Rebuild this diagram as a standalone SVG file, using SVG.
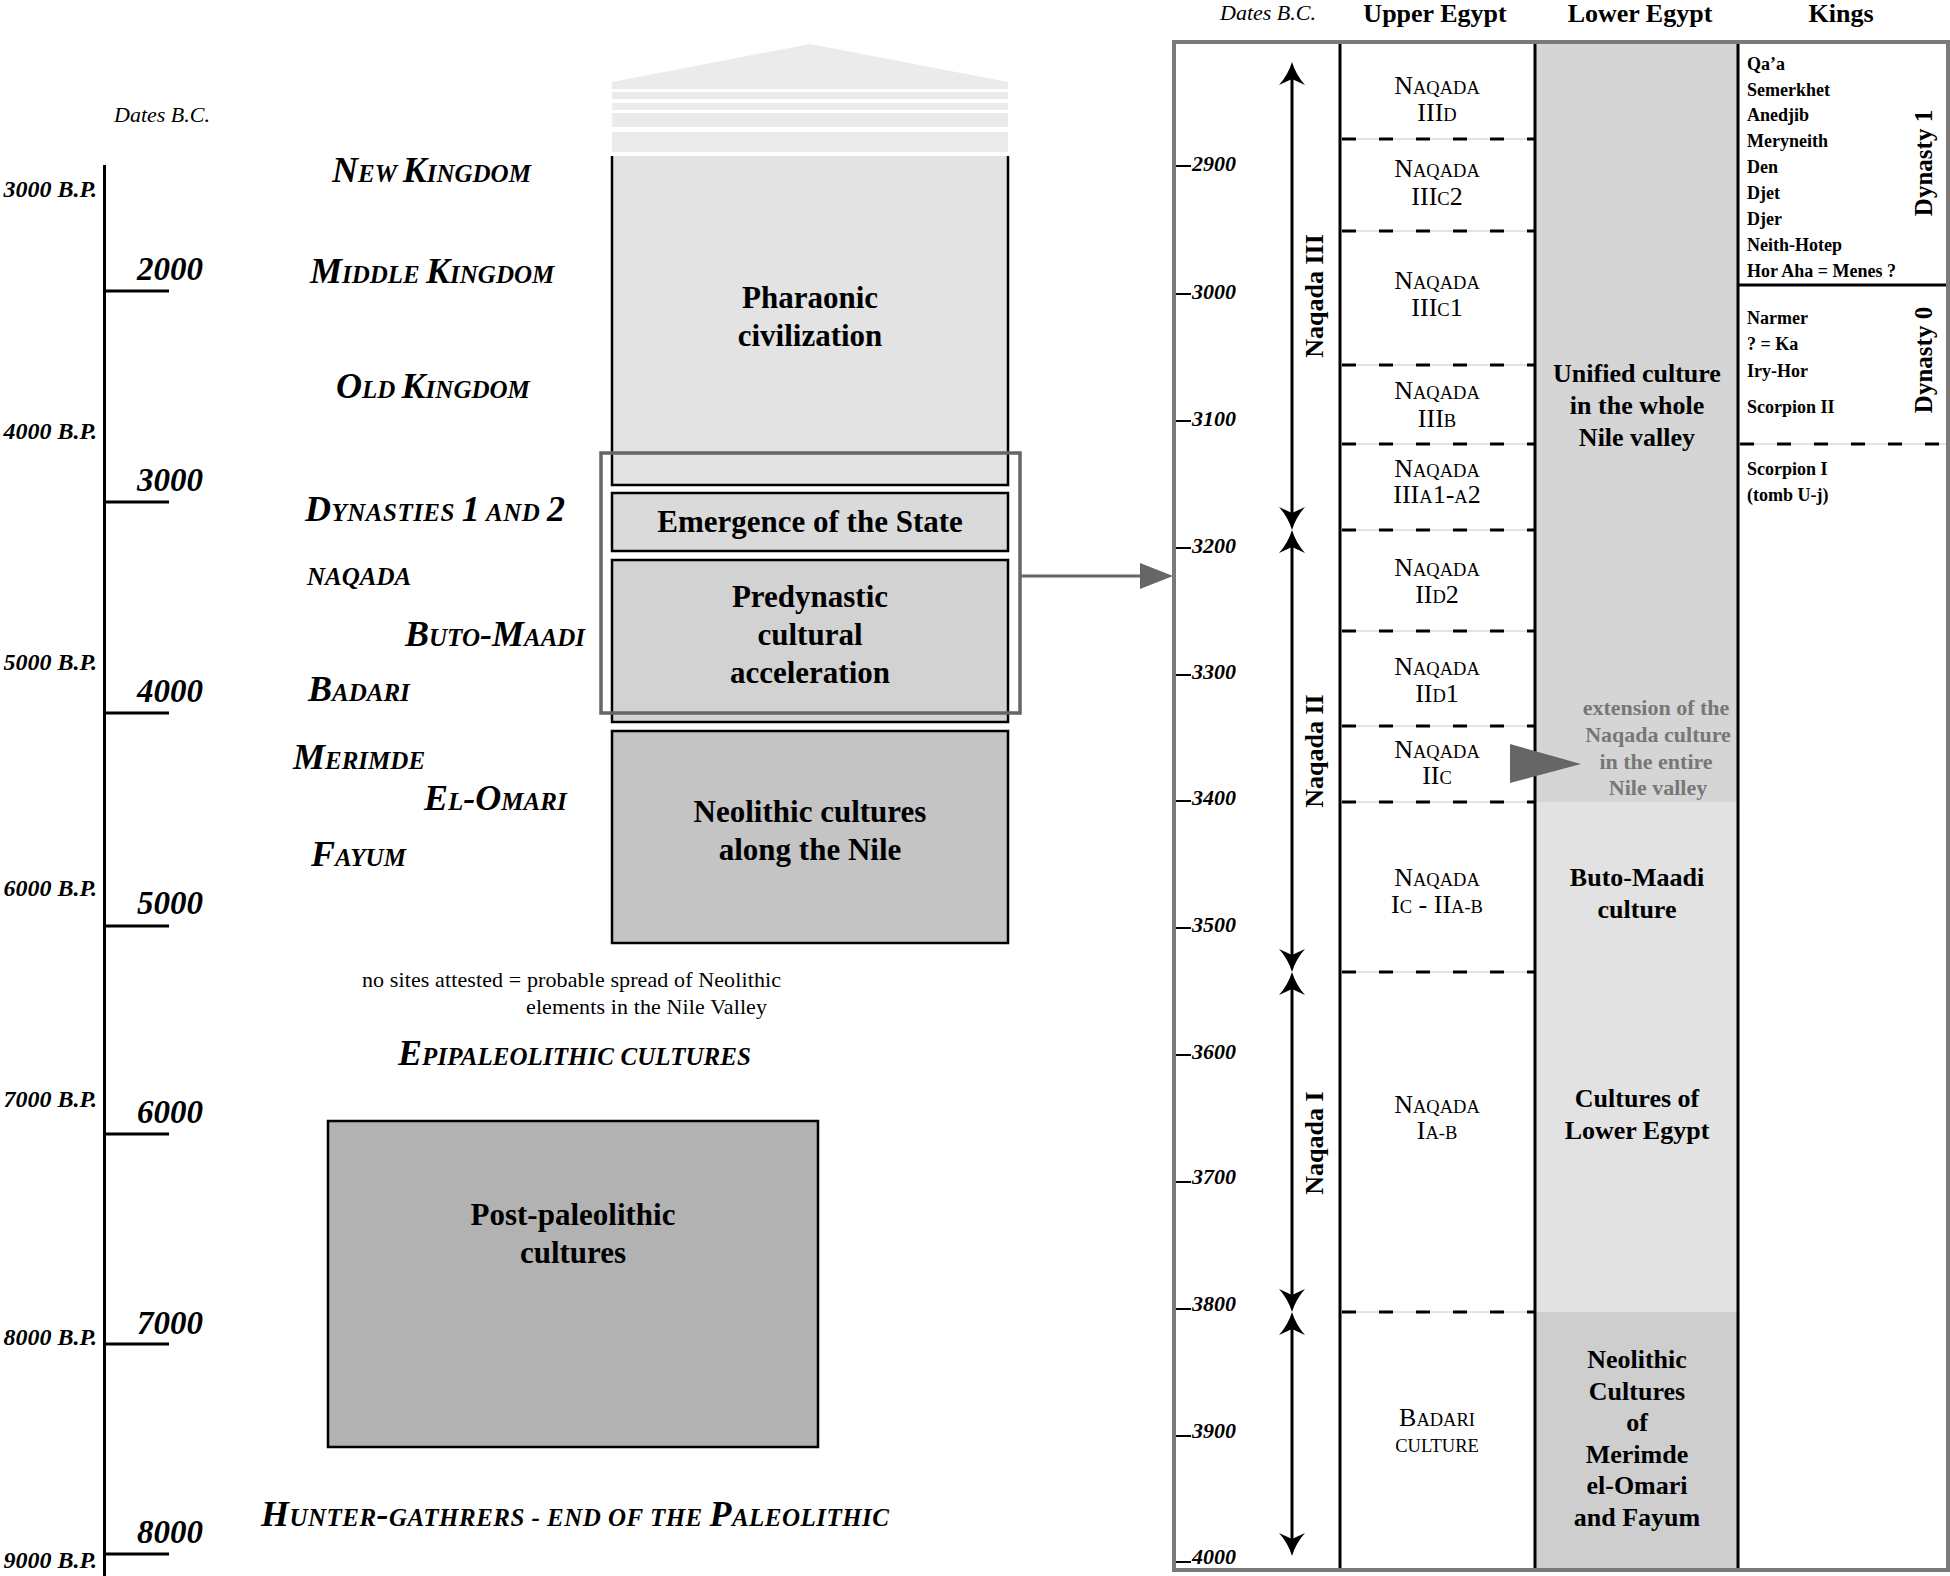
<svg xmlns="http://www.w3.org/2000/svg" width="1950" height="1576" viewBox="0 0 1950 1576">
<style>
text{font-family:"Liberation Serif","Times New Roman",serif;fill:#000}
.lbl{font-weight:bold;font-style:italic;font-size:36px}
.lbl .s,.lbs{font-size:25px}
.yr{font-weight:bold;font-style:italic;font-size:33px}
.bp{font-weight:bold;font-style:italic;font-size:24px;text-anchor:end}
.bx{font-weight:bold;font-size:31px;text-anchor:middle}
.note{font-size:22px}
.dt{font-style:italic;font-size:22px}
.hdr{font-weight:bold;font-size:26px;text-anchor:middle}
.ue{font-size:26px;text-anchor:middle}
.ue .s{font-size:18.5px}
.le{font-weight:bold;font-size:26px;text-anchor:middle}
.ext{font-weight:bold;font-size:22px;text-anchor:middle;fill:#777}
.king{font-weight:bold;font-size:18px}
.dyn{font-weight:bold;font-size:25px;text-anchor:middle}
.nq{font-weight:bold;font-size:26px;text-anchor:middle}
.tk{font-weight:bold;font-style:italic;font-size:22px}
.ax{stroke:#000;stroke-width:3;fill:none}
.box{stroke:#000;stroke-width:2.5}
.dash{stroke:#000;stroke-width:3;stroke-dasharray:14 23}
.thin{stroke:#c8c8c8;stroke-width:1}
.col{stroke:#000;stroke-width:3}
.tkl{stroke:#000;stroke-width:2}
</style>
<defs>
<path id="ahU" d="M0,0 Q4,13 13,23 L0,17 L-13,23 Q-4,13 0,0 Z" fill="#000"/>
<path id="ahD" d="M0,0 Q4,-13 13,-23 L0,-17 L-13,-23 Q-4,-13 0,0 Z" fill="#000"/>
</defs>
<rect width="1950" height="1576" fill="#fff"/>

<!-- Left time axis -->
<g id="left-axis">
<line class="ax" x1="104.5" y1="165" x2="104.5" y2="1576"/>
<line class="ax" x1="104" y1="291" x2="169" y2="291"/>
<line class="ax" x1="104" y1="502" x2="169" y2="502"/>
<line class="ax" x1="104" y1="713" x2="169" y2="713"/>
<line class="ax" x1="104" y1="926" x2="169" y2="926"/>
<line class="ax" x1="104" y1="1134" x2="169" y2="1134"/>
<line class="ax" x1="104" y1="1344" x2="169" y2="1344"/>
<line class="ax" x1="104" y1="1554" x2="169" y2="1554"/>
<text class="dt" x="114" y="122">Dates B.C.</text>
<text class="yr" x="137" y="280">2000</text>
<text class="yr" x="137" y="491">3000</text>
<text class="yr" x="137" y="702">4000</text>
<text class="yr" x="137" y="914">5000</text>
<text class="yr" x="137" y="1123">6000</text>
<text class="yr" x="137" y="1334">7000</text>
<text class="yr" x="137" y="1543">8000</text>
<text class="bp" x="97" y="197">3000 B.P.</text>
<text class="bp" x="97" y="439">4000 B.P.</text>
<text class="bp" x="97" y="670">5000 B.P.</text>
<text class="bp" x="97" y="896">6000 B.P.</text>
<text class="bp" x="97" y="1107">7000 B.P.</text>
<text class="bp" x="97" y="1345">8000 B.P.</text>
<text class="bp" x="97" y="1568">9000 B.P.</text>
</g>

<!-- Period labels -->
<g id="period-labels">
<text class="lbl" x="332" y="182">N<tspan class="s">EW </tspan>K<tspan class="s">INGDOM</tspan></text>
<text class="lbl" x="310" y="283">M<tspan class="s">IDDLE </tspan>K<tspan class="s">INGDOM</tspan></text>
<text class="lbl" x="336" y="398">O<tspan class="s">LD </tspan>K<tspan class="s">INGDOM</tspan></text>
<text class="lbl" x="305" y="521" textLength="260">D<tspan class="s">YNASTIES </tspan>1<tspan class="s"> AND </tspan>2</text>
<text class="lbl lbs" x="307" y="585">NAQADA</text>
<text class="lbl" x="405" y="646">B<tspan class="s">UTO</tspan>-M<tspan class="s">AADI</tspan></text>
<text class="lbl" x="308" y="701">B<tspan class="s">ADARI</tspan></text>
<text class="lbl" x="293" y="769">M<tspan class="s">ERIMDE</tspan></text>
<text class="lbl" x="424" y="810">E<tspan class="s">L</tspan>-O<tspan class="s">MARI</tspan></text>
<text class="lbl" x="311" y="866">F<tspan class="s">AYUM</tspan></text>
<text class="note" x="362" y="987" textLength="419">no sites attested = probable spread of Neolithic</text>
<text class="note" x="526" y="1014" textLength="241">elements in the Nile Valley</text>
<text class="lbl" x="398" y="1065" textLength="353">E<tspan class="s">PIPALEOLITHIC CULTURES</tspan></text>
<text class="lbl" x="261" y="1526" textLength="628">H<tspan class="s">UNTER</tspan>-<tspan class="s">GATHRERS - END OF THE </tspan>P<tspan class="s">ALEOLITHIC</tspan></text>
</g>

<!-- Pharaonic column -->
<g id="pharaonic">
<polygon points="810,44 1008,82 1008,89 612,89 612,82" fill="#ebebeb"/>
<rect x="612" y="92" width="396" height="7" fill="#ebebeb"/>
<rect x="612" y="103" width="396" height="7" fill="#ebebeb"/>
<rect x="612" y="113" width="396" height="14" fill="#ebebeb"/>
<rect x="612" y="132" width="396" height="20" fill="#ebebeb"/>
<rect x="612" y="156" width="396" height="329" fill="#e3e3e3"/>
<path d="M612,156 V485 H1008 V156" fill="none" stroke="#000" stroke-width="2.5"/>
<text class="bx" x="810" y="308">Pharaonic</text>
<text class="bx" x="810" y="346">civilization</text>
</g>
<g id="emergence">
<rect class="box" x="612" y="493" width="396" height="58" fill="#dadada"/>
<text class="bx" x="810" y="532">Emergence of the State</text>
</g>
<g id="predynastic">
<rect class="box" x="612" y="560" width="396" height="162" fill="#d2d2d2"/>
<text class="bx" x="810" y="607">Predynastic</text>
<text class="bx" x="810" y="645">cultural</text>
<text class="bx" x="810" y="683">acceleration</text>
</g>
<g id="neolithic">
<rect class="box" x="612" y="731" width="396" height="212" fill="#c4c4c4"/>
<text class="bx" x="810" y="822">Neolithic cultures</text>
<text class="bx" x="810" y="860">along the Nile</text>
</g>
<g id="postpaleo">
<rect class="box" x="328" y="1121" width="490" height="326" fill="#b2b2b2"/>
<text class="bx" x="573" y="1225">Post-paleolithic</text>
<text class="bx" x="573" y="1263">cultures</text>
</g>
<g id="highlight">
<rect x="601" y="453" width="419" height="260" fill="none" stroke="#666" stroke-width="3.5"/>
</g>

<!-- Right table -->
<g id="table">
<rect x="1174" y="42" width="774" height="1528" fill="#fff"/>
<rect x="1535" y="42" width="203" height="760" fill="#d5d5d5"/>
<rect x="1535" y="802" width="203" height="510" fill="#e2e2e2"/>
<rect x="1535" y="1312" width="203" height="258" fill="#cecece"/>
<g id="dashes">
<line class="thin" x1="1340" y1="139" x2="1535" y2="139"/>
<line class="thin" x1="1340" y1="231" x2="1535" y2="231"/>
<line class="thin" x1="1340" y1="365" x2="1535" y2="365"/>
<line class="thin" x1="1340" y1="444" x2="1535" y2="444"/>
<line class="thin" x1="1340" y1="530" x2="1535" y2="530"/>
<line class="thin" x1="1340" y1="631" x2="1535" y2="631"/>
<line class="thin" x1="1340" y1="726" x2="1535" y2="726"/>
<line class="thin" x1="1340" y1="802" x2="1535" y2="802"/>
<line class="thin" x1="1340" y1="972" x2="1535" y2="972"/>
<line class="thin" x1="1340" y1="1312" x2="1535" y2="1312"/>
<line class="thin" x1="1738" y1="444" x2="1948" y2="444"/>
<line class="dash" x1="1342" y1="139" x2="1535" y2="139"/>
<line class="dash" x1="1342" y1="231" x2="1535" y2="231"/>
<line class="dash" x1="1342" y1="365" x2="1535" y2="365"/>
<line class="dash" x1="1342" y1="444" x2="1535" y2="444"/>
<line class="dash" x1="1342" y1="530" x2="1535" y2="530"/>
<line class="dash" x1="1342" y1="631" x2="1535" y2="631"/>
<line class="dash" x1="1342" y1="726" x2="1535" y2="726"/>
<line class="dash" x1="1342" y1="802" x2="1535" y2="802"/>
<line class="dash" x1="1342" y1="972" x2="1535" y2="972"/>
<line class="dash" x1="1342" y1="1312" x2="1535" y2="1312"/>
<line class="dash" x1="1740" y1="444" x2="1948" y2="444"/>
</g>
<line class="col" x1="1738" y1="285" x2="1948" y2="285"/>
<line class="col" x1="1340" y1="42" x2="1340" y2="1570"/>
<line class="col" x1="1535" y1="42" x2="1535" y2="1570"/>
<line class="col" x1="1738" y1="42" x2="1738" y2="1570"/>
<rect x="1174" y="42" width="774" height="1528" fill="none" stroke="#7a7a7a" stroke-width="4"/>
</g>

<g id="headers">
<text class="dt" x="1220" y="20">Dates B.C.</text>
<text class="hdr" x="1435" y="22">Upper Egypt</text>
<text class="hdr" x="1640" y="22">Lower Egypt</text>
<text class="hdr" x="1841" y="22">Kings</text>
</g>

<g id="date-ticks">
<line class="tkl" x1="1176" y1="166" x2="1191" y2="166"/><text class="tk" x="1192" y="171">2900</text>
<line class="tkl" x1="1176" y1="294" x2="1191" y2="294"/><text class="tk" x="1192" y="299">3000</text>
<line class="tkl" x1="1176" y1="421" x2="1191" y2="421"/><text class="tk" x="1192" y="426">3100</text>
<line class="tkl" x1="1176" y1="548" x2="1191" y2="548"/><text class="tk" x="1192" y="553">3200</text>
<line class="tkl" x1="1176" y1="675" x2="1191" y2="675"/><text class="tk" x="1192" y="679">3300</text>
<line class="tkl" x1="1176" y1="801" x2="1191" y2="801"/><text class="tk" x="1192" y="805">3400</text>
<line class="tkl" x1="1176" y1="928" x2="1191" y2="928"/><text class="tk" x="1192" y="932">3500</text>
<line class="tkl" x1="1176" y1="1055" x2="1191" y2="1055"/><text class="tk" x="1192" y="1059">3600</text>
<line class="tkl" x1="1176" y1="1182" x2="1191" y2="1182"/><text class="tk" x="1192" y="1184">3700</text>
<line class="tkl" x1="1176" y1="1309" x2="1191" y2="1309"/><text class="tk" x="1192" y="1311">3800</text>
<line class="tkl" x1="1176" y1="1436" x2="1191" y2="1436"/><text class="tk" x="1192" y="1438">3900</text>
<line class="tkl" x1="1176" y1="1562" x2="1191" y2="1562"/><text class="tk" x="1192" y="1564">4000</text>
</g>

<g id="naqada-phases">
<line class="ax" x1="1292" y1="72" x2="1292" y2="520"/>
<line class="ax" x1="1292" y1="540" x2="1292" y2="962"/>
<line class="ax" x1="1292" y1="982" x2="1292" y2="1303"/>
<line class="ax" x1="1292" y1="1323" x2="1292" y2="1546"/>
<use href="#ahU" x="1292" y="62"/>
<use href="#ahD" x="1292" y="530"/>
<use href="#ahU" x="1292" y="530"/>
<use href="#ahD" x="1292" y="972"/>
<use href="#ahU" x="1292" y="972"/>
<use href="#ahD" x="1292" y="1312"/>
<use href="#ahU" x="1292" y="1312"/>
<use href="#ahD" x="1292" y="1556"/>
<text class="nq" transform="translate(1323,296) rotate(-90)">Naqada III</text>
<text class="nq" transform="translate(1323,751) rotate(-90)">Naqada II</text>
<text class="nq" transform="translate(1323,1143) rotate(-90)">Naqada I</text>
</g>

<g id="upper-egypt">
<text class="ue" x="1437" y="94">N<tspan class="s">AQADA</tspan></text>
<text class="ue" x="1437" y="121">III<tspan class="s">D</tspan></text>
<text class="ue" x="1437" y="177">N<tspan class="s">AQADA</tspan></text>
<text class="ue" x="1437" y="205">III<tspan class="s">C</tspan>2</text>
<text class="ue" x="1437" y="289">N<tspan class="s">AQADA</tspan></text>
<text class="ue" x="1437" y="316">III<tspan class="s">C</tspan>1</text>
<text class="ue" x="1437" y="399">N<tspan class="s">AQADA</tspan></text>
<text class="ue" x="1437" y="427">III<tspan class="s">B</tspan></text>
<text class="ue" x="1437" y="477">N<tspan class="s">AQADA</tspan></text>
<text class="ue" x="1437" y="503">III<tspan class="s">A</tspan>1-<tspan class="s">A</tspan>2</text>
<text class="ue" x="1437" y="576">N<tspan class="s">AQADA</tspan></text>
<text class="ue" x="1437" y="603">II<tspan class="s">D</tspan>2</text>
<text class="ue" x="1437" y="675">N<tspan class="s">AQADA</tspan></text>
<text class="ue" x="1437" y="702">II<tspan class="s">D</tspan>1</text>
<text class="ue" x="1437" y="758">N<tspan class="s">AQADA</tspan></text>
<text class="ue" x="1437" y="784">II<tspan class="s">C</tspan></text>
<text class="ue" x="1437" y="886">N<tspan class="s">AQADA</tspan></text>
<text class="ue" x="1437" y="913">I<tspan class="s">C</tspan> - II<tspan class="s">A-B</tspan></text>
<text class="ue" x="1437" y="1113">N<tspan class="s">AQADA</tspan></text>
<text class="ue" x="1437" y="1139">I<tspan class="s">A-B</tspan></text>
<text class="ue" x="1437" y="1426">B<tspan class="s">ADARI</tspan></text>
<text class="ue" x="1437" y="1452"><tspan class="s">CULTURE</tspan></text>
</g>

<g id="lower-egypt">
<text class="le" x="1637" y="382">Unified culture</text>
<text class="le" x="1637" y="414">in the whole</text>
<text class="le" x="1637" y="446">Nile valley</text>
<text class="ext" x="1656" y="715">extension of the</text>
<text class="ext" x="1658" y="742">Naqada culture</text>
<text class="ext" x="1656" y="769">in the entire</text>
<text class="ext" x="1658" y="795">Nile valley</text>
<text class="le" x="1637" y="886">Buto-Maadi</text>
<text class="le" x="1637" y="918">culture</text>
<text class="le" x="1637" y="1107">Cultures of</text>
<text class="le" x="1637" y="1139">Lower Egypt</text>
<text class="le" x="1637" y="1368">Neolithic</text>
<text class="le" x="1637" y="1400">Cultures</text>
<text class="le" x="1637" y="1431">of</text>
<text class="le" x="1637" y="1463">Merimde</text>
<text class="le" x="1637" y="1494">el-Omari</text>
<text class="le" x="1637" y="1526">and Fayum</text>
</g>

<g id="kings">
<text class="king" x="1747" y="70">Qa’a</text>
<text class="king" x="1747" y="96">Semerkhet</text>
<text class="king" x="1747" y="121">Anedjib</text>
<text class="king" x="1747" y="147">Meryneith</text>
<text class="king" x="1747" y="173">Den</text>
<text class="king" x="1747" y="199">Djet</text>
<text class="king" x="1747" y="225">Djer</text>
<text class="king" x="1747" y="251">Neith-Hotep</text>
<text class="king" x="1747" y="277">Hor Aha = Menes ?</text>
<text class="king" x="1747" y="324">Narmer</text>
<text class="king" x="1747" y="350">? = Ka</text>
<text class="king" x="1747" y="377">Iry-Hor</text>
<text class="king" x="1747" y="413">Scorpion II</text>
<text class="king" x="1747" y="475">Scorpion I</text>
<text class="king" x="1747" y="501">(tomb U-j)</text>
<text class="dyn" transform="translate(1932,163) rotate(-90)">Dynasty 1</text>
<text class="dyn" transform="translate(1932,360) rotate(-90)">Dynasty 0</text>
</g>

<g id="connectors">
<line x1="1020" y1="576" x2="1145" y2="576" stroke="#666" stroke-width="3"/>
<polygon points="1140,563 1173,576 1140,589" fill="#666"/>
<polygon points="1510,744 1581,764 1510,783" fill="#666"/>
</g>
</svg>
